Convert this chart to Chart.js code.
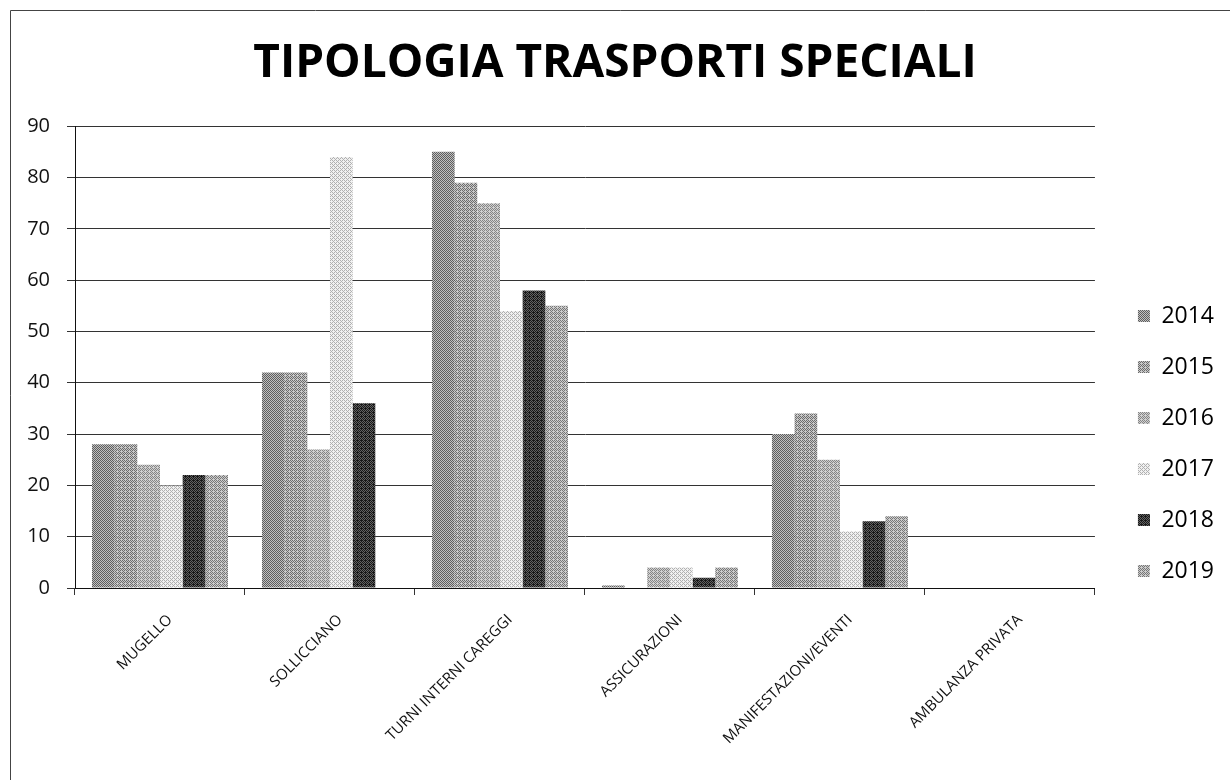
<!DOCTYPE html>
<html lang="it">
<head>
<meta charset="utf-8">
<title>Tipologia trasporti speciali</title>
<script src="https://cdn.jsdelivr.net/npm/chart.js@4.4.1/dist/chart.umd.min.js"></script>
<style>
  html, body { margin: 0; padding: 0; background: #ffffff; }
  #wrap { width: 1230px; height: 780px; position: relative; }
</style>
</head>
<body>
<div id="wrap"><canvas id="chart" width="1230" height="780"></canvas></div>
<script>
// Categories and yearly counts
const categories = ['MUGELLO', 'SOLLICCIANO', 'TURNI INTERNI CAREGGI', 'ASSICURAZIONI', 'MANIFESTAZIONI/EVENTI', 'AMBULANZA PRIVATA'];
const years = ['2014', '2015', '2016', '2017', '2018', '2019'];
const values2014 = [28, 42, 85, 0.5, 30, 0];
const values2015 = [28, 42, 79, 0, 34, 0];
const values2016 = [24, 27, 75, 4, 25, 0];
const values2017 = [20, 84, 54, 4, 11, 0];
const values2018 = [22, 36, 58, 2, 13, 0];
const values2019 = [22, 0, 55, 4, 14, 0];
const yTicks = [0, 10, 20, 30, 40, 50, 60, 70, 80, 90];

// Stippled grey fills: a 4x4 ordered-dither tile mixing two greys
const BAYER = [[0, 8, 2, 10], [12, 4, 14, 6], [3, 11, 1, 9], [15, 7, 13, 5]];
function stipple(dark, light, level) {
  const c = document.createElement('canvas');
  c.width = 4; c.height = 4;
  const g = c.getContext('2d');
  for (let y = 0; y < 4; y++) {
    for (let x = 0; x < 4; x++) {
      g.fillStyle = BAYER[y][x] < level ? dark : light;
      g.fillRect(x, y, 1, 1);
    }
  }
  return g.createPattern(c, 'repeat');
}

const fills = [
  stipple('#5e5e5e', '#c0c0c0', 8),
  stipple('#6c6c6c', '#c8c8c8', 7),
  stipple('#858585', '#d0d0d0', 7),
  stipple('#b0b0b0', '#f0f0f0', 6),
  stipple('#181818', '#626262', 9),
  stipple('#777777', '#cccccc', 7)
];
const series = [values2014, values2015, values2016, values2017, values2018, values2019];

// Frame around the whole chart
const framePlugin = {
  id: 'frame',
  beforeDraw(chart) {
    const ctx = chart.ctx;
    ctx.save();
    ctx.fillStyle = '#ffffff';
    ctx.fillRect(0, 0, chart.width, chart.height);
    ctx.strokeStyle = '#444444';
    ctx.lineWidth = 1;
    ctx.beginPath();
    ctx.moveTo(10.5, chart.height);
    ctx.lineTo(10.5, 10.5);
    ctx.lineTo(chart.width, 10.5);
    ctx.stroke();
    ctx.restore();
  }
};

new Chart(document.getElementById('chart'), {
  type: 'bar',
  data: {
    labels: categories,
    datasets: years.map((yr, i) => ({
      label: yr,
      data: series[i],
      backgroundColor: fills[i],
      borderWidth: 0,
      categoryPercentage: 0.8,
      barPercentage: 1.0
    }))
  },
  plugins: [framePlugin],
  options: {
    responsive: false,
    devicePixelRatio: 1,
    animation: false,
    layout: { padding: { left: 0, right: 0, top: 0, bottom: 20 } },
    plugins: {
      title: {
        display: true,
        text: 'TIPOLOGIA TRASPORTI SPECIALI',
        color: '#000000',
        font: { family: '"Open Sans"', size: 46, weight: 'bold' },
        padding: { top: 36, bottom: 35 }
      },
      legend: {
        position: 'right',
        align: 'center',
        fullSize: true,
        // empty title block pushes the year list down beside the plot
        title: {
          display: true,
          text: ' ',
          font: { size: 12, lineHeight: 1.2 },
          padding: { top: 56, bottom: 56.6 }
        },
        labels: {
          boxWidth: 12,
          boxHeight: 12,
          padding: 28,
          color: '#000000',
          font: { family: '"Open Sans"', size: 23 },
          generateLabels(chart) {
            // a trailing space keeps a blank margin to the right of the year labels
            return Chart.defaults.plugins.legend.labels.generateLabels(chart)
              .map(item => Object.assign(item, { text: item.text + ' ' }));
          }
        }
      },
      tooltip: { enabled: false }
    },
    scales: {
      x: {
        afterFit(scale) { scale.height = 172; },
        grid: {
          drawOnChartArea: false,
          drawTicks: true,
          tickLength: 7,
          color: '#333333',
          offset: true
        },
        border: { display: true, color: '#111111', width: 1 },
        ticks: {
          autoSkip: false,
          minRotation: 45,
          maxRotation: 45,
          padding: 16,
          labelOffset: 10,
          color: '#111111',
          font: { family: '"Open Sans"', size: 15 }
        }
      },
      y: {
        min: 0,
        max: 90,
        afterFit(scale) { scale.width = 75; },
        afterBuildTicks(scale) { scale.ticks = yTicks.map(v => ({ value: v })); },
        grid: {
          color: '#333333',
          lineWidth: 1,
          tickLength: 8
        },
        border: { display: true, color: '#111111', width: 1 },
        ticks: {
          stepSize: 10,
          padding: 17,
          color: '#111111',
          font: { family: '"Open Sans"', size: 20 }
        }
      },
      // blank strip between the plot and the legend
      gap: {
        type: 'linear',
        position: 'right',
        display: true,
        afterFit(scale) { scale.width = 15; },
        grid: { display: false, drawTicks: false },
        border: { display: false },
        ticks: { display: false }
      }
    }
  }
});
</script>
</body>
</html>
